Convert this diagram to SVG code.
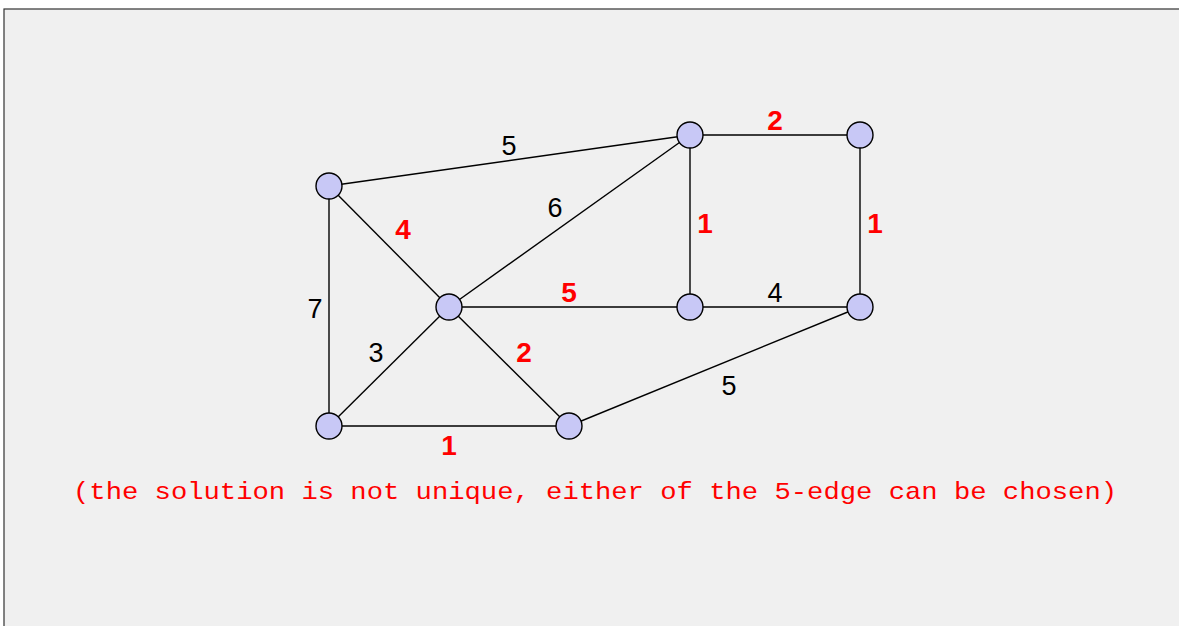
<svg xmlns="http://www.w3.org/2000/svg" width="1179" height="626" viewBox="0 0 1179 626">
<style>
.e{stroke:#000;stroke-width:1.4;fill:none}
.n{fill:#c8c8f6;stroke:#000;stroke-width:1.4}
.w{font-family:"Liberation Sans","DejaVu Sans",sans-serif;font-size:27px;fill:#000;text-anchor:middle}
.r{font-family:"Liberation Sans","DejaVu Sans",sans-serif;font-size:28px;font-weight:bold;fill:#ff0000;text-anchor:middle}
.note{font-family:"Liberation Mono","DejaVu Sans Mono",monospace;font-size:24px;fill:#ff0000}
</style>
<rect x="0" y="0" width="1179" height="626" fill="#ffffff"/>
<rect x="4" y="9" width="1180" height="630" fill="#f0f0f0" stroke="#333" stroke-width="1.2"/>
<g id="connectors">
<line class="e" x1="329" y1="186" x2="690" y2="135"/>
<line class="e" x1="329" y1="186" x2="449" y2="307"/>
<line class="e" x1="329" y1="186" x2="329" y2="426"/>
<line class="e" x1="690" y1="135" x2="449" y2="307"/>
<line class="e" x1="690" y1="135" x2="860" y2="135"/>
<line class="e" x1="690" y1="135" x2="690" y2="307"/>
<line class="e" x1="860" y1="135" x2="860" y2="307"/>
<line class="e" x1="449" y1="307" x2="690" y2="307"/>
<line class="e" x1="690" y1="307" x2="860" y2="307"/>
<line class="e" x1="449" y1="307" x2="329" y2="426"/>
<line class="e" x1="449" y1="307" x2="569" y2="426"/>
<line class="e" x1="329" y1="426" x2="569" y2="426"/>
<line class="e" x1="569" y1="426" x2="860" y2="307"/>
<text class="w" x="509" y="155">5</text>
<text class="r" x="403" y="239">4</text>
<text class="w" x="315" y="318">7</text>
<text class="w" x="555" y="217">6</text>
<text class="r" x="775" y="130">2</text>
<text class="r" x="705" y="233">1</text>
<text class="r" x="875" y="233">1</text>
<text class="r" x="569" y="302">5</text>
<text class="w" x="775" y="302">4</text>
<text class="w" x="376" y="362">3</text>
<text class="r" x="524" y="362">2</text>
<text class="r" x="449" y="455">1</text>
<text class="w" x="729" y="395">5</text>
</g>
<g id="nA"><circle class="n" cx="329" cy="186" r="13"/></g>
<g id="nB"><circle class="n" cx="690" cy="135" r="13"/></g>
<g id="nC"><circle class="n" cx="860" cy="135" r="13"/></g>
<g id="nD"><circle class="n" cx="449" cy="307" r="13"/></g>
<g id="nE"><circle class="n" cx="690" cy="307" r="13"/></g>
<g id="nF"><circle class="n" cx="860" cy="307" r="13"/></g>
<g id="nG"><circle class="n" cx="329" cy="426" r="13"/></g>
<g id="nH"><circle class="n" cx="569" cy="426" r="13"/></g>
<text class="note" x="73" y="499" textLength="1044" lengthAdjust="spacingAndGlyphs">(the solution is not unique, either of the 5-edge can be chosen)</text>
</svg>
